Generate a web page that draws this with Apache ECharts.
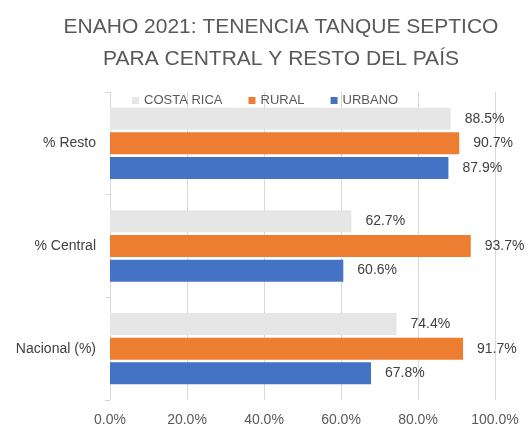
<!DOCTYPE html>
<html>
<head>
<meta charset="utf-8">
<script src="https://cdn.jsdelivr.net/npm/echarts@6/dist/echarts.min.js"></script>
<style>
  html, body { margin: 0; padding: 0; background: #fff; }
  #chart { width: 529px; height: 431px; }
</style>
</head>
<body>
<div id="chart"></div>
<script>
const categories = ['Nacional (%)', '% Central', '% Resto'];
const costaRica = [74.4, 62.7, 88.5];
const rural = [91.7, 93.7, 90.7];
const urbano = [67.8, 60.6, 87.9];
const xTicks = [0, 20, 40, 60, 80, 100];

const font = 'Liberation Sans';
const chart = echarts.init(document.getElementById('chart'));

const label = {
  show: true,
  position: 'right',
  distance: 14,
  color: '#404040',
  fontSize: 14,
  fontFamily: font,
  formatter: p => p.value.toFixed(1) + '%'
};

chart.setOption({
  animation: false,
  title: {
    text: 'ENAHO 2021: TENENCIA TANQUE SEPTICO\nPARA CENTRAL Y RESTO DEL PAÍS',
    left: 276,
    textAlign: 'center',
    top: 6,
    textStyle: { color: '#595959', fontSize: 21, fontWeight: 'normal', fontFamily: font, lineHeight: 32 }
  },
  legend: {
    data: ['COSTA RICA', 'RURAL', 'URBANO'],
    top: 89,
    left: 127,
    itemWidth: 7,
    itemHeight: 7,
    itemGap: 26,
    icon: 'rect',
    textStyle: { color: '#595959', fontSize: 13, fontFamily: font }
  },
  grid: { left: 110, right: 34, top: 92, bottom: 31 },
  xAxis: {
    type: 'value',
    min: xTicks[0],
    max: xTicks[xTicks.length - 1],
    interval: 20,
    axisLabel: { color: '#595959', fontSize: 14, fontFamily: font, margin: 13, formatter: v => v.toFixed(1) + '%' },
    splitLine: { lineStyle: { color: '#d9d9d9' } },
    axisLine: { show: false },
    axisTick: { show: false }
  },
  yAxis: {
    type: 'category',
    data: categories,
    axisLine: { show: true, lineStyle: { color: '#d9d9d9' } },
    axisTick: { show: true, length: 5, lineStyle: { color: '#d9d9d9' } },
    axisLabel: { color: '#404040', fontSize: 14, fontFamily: font, margin: 14 }
  },
  series: [
    { name: 'COSTA RICA', type: 'bar', data: costaRica, itemStyle: { color: '#e7e6e6' }, label: label, barWidth: 22, barGap: '12%', barCategoryGap: '28%' },
    { name: 'RURAL', type: 'bar', data: rural, itemStyle: { color: '#ed7d31' }, label: label, barWidth: 22, barGap: '12%' },
    { name: 'URBANO', type: 'bar', data: urbano, itemStyle: { color: '#4472c4' }, label: label, barWidth: 22, barGap: '12%' }
  ]
});
</script>
</body>
</html>
